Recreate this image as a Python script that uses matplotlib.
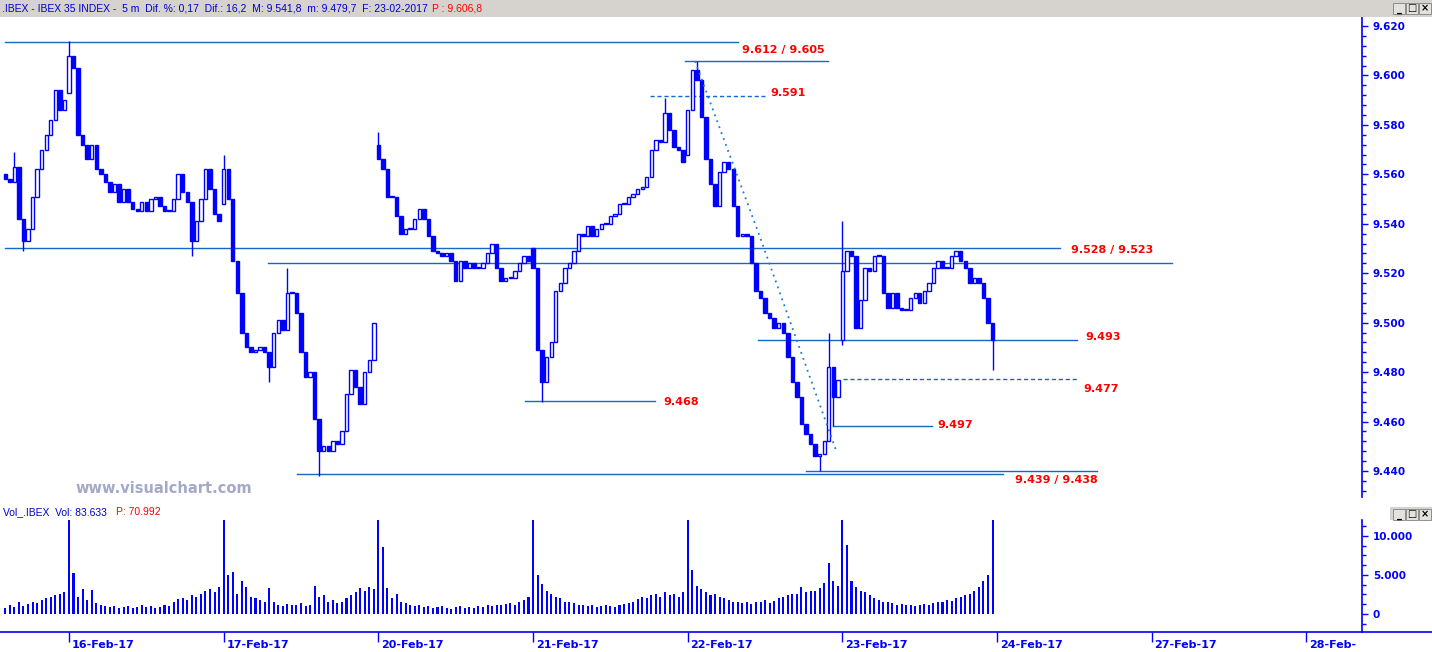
import matplotlib
matplotlib.use('Agg')
import matplotlib.pyplot as plt
import matplotlib.transforms as mtransforms
from matplotlib.patches import Rectangle
from matplotlib.lines import Line2D
from matplotlib.ticker import MultipleLocator, FuncFormatter, FixedLocator

W, H = 1432, 652
BLUE = '#0000ff'
LINE = '#1468c8'
RED = '#ff0000'

# 5 m IBEX 35 closes, sampled per session (points, 9.620 -> 9620)
feb15 = [9558, 9557, 9563, 9542, 9533, 9538, 9551, 9562, 9570, 9576, 9582, 9594, 9586, 9590]
feb16 = [9608, 9603, 9576, 9572, 9566, 9572, 9562, 9560, 9557, 9553,
         9556, 9549, 9554, 9549, 9546, 9545, 9549, 9545, 9550, 9551,
         9547, 9545, 9545, 9550, 9560, 9553, 9549, 9533, 9541, 9550,
         9562, 9554, 9544, 9541]
feb17 = [9562, 9550, 9525, 9512, 9496, 9490, 9488, 9489, 9490, 9488,
         9482, 9496, 9501, 9497, 9512, 9512, 9504, 9488, 9478, 9480,
         9461, 9448, 9450, 9448, 9452, 9451, 9456, 9471, 9481, 9474,
         9467, 9480, 9485, 9500]
feb20 = [9566, 9562, 9551, 9551, 9543, 9536, 9538, 9538, 9542, 9546,
         9542, 9535, 9529, 9528, 9527, 9528, 9525, 9517, 9525, 9522,
         9524, 9522, 9522, 9524, 9528, 9532, 9522, 9517, 9518, 9518,
         9521, 9524, 9527, 9525]
feb21 = [9522, 9489, 9476, 9486, 9492, 9513, 9516, 9522, 9524, 9529,
         9536, 9535, 9539, 9535, 9538, 9540, 9540, 9543, 9544, 9548,
         9548, 9551, 9552, 9554, 9555, 9559, 9570, 9574, 9573, 9585,
         9578, 9571, 9570, 9565]
feb22 = [9586, 9602, 9598, 9583, 9566, 9556, 9547, 9561, 9565, 9562,
         9547, 9535, 9536, 9535, 9524, 9513, 9510, 9504, 9502, 9498,
         9500, 9496, 9486, 9476, 9470, 9459, 9455, 9451, 9446, 9447,
         9452, 9482, 9470, 9477]
feb23 = [9521, 9529, 9527, 9498, 9509, 9522, 9521, 9527, 9527, 9512,
         9506, 9512, 9506, 9505, 9505, 9510, 9512, 9508, 9513, 9516,
         9522, 9525, 9522, 9522, 9527, 9529, 9525, 9522, 9516, 9518,
         9516, 9510, 9500, 9493]
day_open = [9560, 9593, 9548, 9572, 9530, 9568, 9493]

# wick extremes (bar index, low, high)
wick_idx = [2, 4, 14, 41, 48, 58, 62, 69, 82, 118, 145, 152, 179, 181, 182, 184, 217]
wick_lo = [None, 9529, None, 9527, None, 9476, None, 9438, None, 9468, None, None, 9440, None, 9458, 9491, 9481]
wick_hi = [9569, None, 9614, None, 9568, None, 9522, None, 9577, None, 9591, 9606, None, 9496, None, 9541, None]

# volume (thousands)
v15 = [0.8, 1.2, 0.9, 1.5, 1.0, 1.3, 1.6, 1.4, 1.8, 2.0, 2.2, 2.4, 2.6, 2.8]
v16 = [12.5, 5.3, 2.2, 3.2, 1.8, 3.1, 1.4, 1.2, 1.0, 0.9, 1.0, 0.8, 0.9, 1.0, 0.8, 0.9, 1.2,
       0.9, 1.0, 0.8, 0.9, 1.1, 1.0, 1.6, 1.9, 2.0, 1.8, 2.4, 2.2, 2.6, 2.9, 3.2, 2.8, 3.5]
v17 = [12.5, 5.0, 5.4, 2.6, 4.2, 3.5, 2.2, 2.0, 1.8, 1.5, 3.3, 1.6, 1.2, 1.0, 1.3, 1.1, 1.2,
       1.4, 1.0, 1.2, 3.6, 2.2, 2.4, 1.6, 1.8, 1.4, 1.5, 2.0, 2.4, 2.8, 3.3, 3.0, 3.4, 3.2]
v20 = [12.5, 8.6, 3.3, 2.0, 2.5, 1.6, 1.4, 1.2, 1.0, 1.1, 0.9, 1.0, 0.8, 0.9, 1.0, 0.8, 0.7,
       0.9, 1.0, 0.8, 0.9, 0.8, 1.0, 0.9, 1.1, 1.0, 1.2, 1.1, 1.3, 1.4, 1.2, 1.6, 1.8, 2.2]
v21 = [12.5, 5.0, 3.8, 3.0, 2.6, 2.2, 2.0, 1.6, 1.5, 1.4, 1.2, 1.1, 1.0, 1.2, 0.9, 1.0, 1.1,
       1.0, 0.9, 1.2, 1.3, 1.4, 1.6, 1.9, 2.2, 2.0, 2.4, 2.6, 2.2, 2.8, 2.4, 2.6, 2.2, 2.8]
v22 = [12.5, 5.6, 3.6, 3.2, 2.8, 2.4, 2.6, 2.2, 2.0, 1.8, 1.6, 1.5, 1.4, 1.6, 1.3, 1.5, 1.6,
       1.8, 1.4, 1.7, 2.0, 2.2, 2.4, 2.6, 2.5, 3.4, 2.8, 3.0, 2.9, 3.3, 4.0, 6.5, 4.2, 3.6]
v23 = [12.5, 8.8, 4.2, 3.5, 3.0, 2.8, 2.4, 2.0, 1.8, 1.6, 1.5, 1.4, 1.2, 1.3, 1.1, 1.2, 1.0,
       1.1, 1.3, 1.2, 1.4, 1.6, 1.5, 1.8, 1.7, 2.0, 2.2, 2.4, 2.6, 3.0, 3.4, 4.2, 5.0, 12.5]

dates = ['16-Feb-17', '17-Feb-17', '20-Feb-17', '21-Feb-17', '22-Feb-17',
         '23-Feb-17', '24-Feb-17', '27-Feb-17', '28-Feb-']
date_pos = [14, 48, 82, 116, 150, 184, 218, 252, 286]

# support / resistance lines: (start bar, end bar, level, dashed)
lvl_x0 = [-0.1, 149.3, 141.7, -0.1, 57.7, 165.4, 184.1, 114.2, 181.9, 175.9, 64.1]
lvl_x1 = [161.0, 180.8, 166.9, 231.8, 256.4, 235.5, 235.5, 142.8, 203.6, 239.9, 219.2]
lvl_y = [9613.5, 9605.8, 9591.8, 9530.2, 9524.1, 9493.0, 9477.2, 9468.3, 9458.2, 9440.1, 9438.6]
lvl_dash = [False, False, True, False, False, False, True, False, False, False, False]

lab_text = ['9.612 / 9.605', '9.591', '9.528 / 9.523', '9.493', '9.477', '9.468', '9.497', '9.439 / 9.438']
lab_x = [162.0, 168.1, 234.3, 237.4, 237.0, 144.6, 204.8, 222.0]
lab_y = [9610.3, 9592.9, 9529.4, 9494.2, 9473.2, 9467.9, 9458.6, 9436.3]

trend_x = [151.6, 165.8, 182.8]
trend_y = [9605.8, 9535.0, 9447.3]

closes = feb15 + feb16 + feb17 + feb20 + feb21 + feb22 + feb23
volume = [v * 1000 for v in v15 + v16 + v17 + v20 + v21 + v22 + v23]
starts = [0, 14, 48, 82, 116, 150, 184]

opens = []
for i in range(len(closes)):
    if i in starts:
        opens.append(day_open[starts.index(i)])
    else:
        opens.append(closes[i - 1])
highs = [max(o, c) for o, c in zip(opens, closes)]
lows = [min(o, c) for o, c in zip(opens, closes)]
for k, i in enumerate(wick_idx):
    if wick_hi[k] is not None:
        highs[i] = wick_hi[k]
    if wick_lo[k] is not None:
        lows[i] = wick_lo[k]


def fx(x):
    return x / W


def fy(y):
    return 1 - y / H


XLIM = (-0.5, 298.2)

fig = plt.figure(figsize=(W / 100, H / 100), dpi=100)
fig.patch.set_facecolor('white')

# header strips
fig.patches.append(Rectangle((0, fy(17)), 1, 17 / H, transform=fig.transFigure,
                             facecolor='#d6d3ce', edgecolor='none', zorder=0))
fig.patches.append(Rectangle((fx(1390), fy(520)), 42 / W, 13 / H, transform=fig.transFigure,
                             facecolor='#d6d3ce', edgecolor='none', zorder=0))
for yb in (3, 509):
    for k, g in enumerate(['_', '\u25a1', '\u00d7']):
        x0 = 1393 + k * 13
        fig.patches.append(Rectangle((fx(x0), fy(yb + 11)), 12 / W, 11 / H, transform=fig.transFigure,
                                     facecolor='#e4e2de', edgecolor='#808080', lw=0.6, zorder=1))
        fig.text(fx(x0 + 6), fy(yb + 5.5), g, fontsize=7, fontweight='bold', color='black',
                 ha='center', va='center')

fig.text(fx(2), fy(8.5), '.IBEX - IBEX 35 INDEX -  5 m  Dif. %: 0,17  Dif.: 16,2  M: 9.541,8  m: 9.479,7  F: 23-02-2017',
         fontsize=7.5, family='Liberation Sans', color='#0000d0', va='center')
fig.text(fx(432), fy(8.5), 'P : 9.606,8', fontsize=7.5, family='Liberation Sans', color=RED, va='center')
fig.text(fx(3), fy(512), 'Vol_.IBEX  Vol: 83.633', fontsize=7.5, family='Liberation Sans',
         color='#0000d0', va='center')
fig.text(fx(116), fy(512), 'P: 70.992', fontsize=7.5, family='Liberation Sans', color=RED, va='center')

# price panel
ax = fig.add_axes([fx(3), fy(497), fx(1362) - fx(3), (497 - 17) / H])
ax.set_xlim(*XLIM)
ax.set_ylim(9429.47, 9623.64)
ax.set_facecolor('none')

body_w = 0.75
for i, (o, c, h, l) in enumerate(zip(opens, closes, highs, lows)):
    ax.vlines(i, l, h, color=BLUE, lw=1, zorder=3)
    bot = min(o, c)
    ht = max(abs(c - o), 0.4)
    face = BLUE if c < o else 'white'
    ax.add_patch(Rectangle((i - body_w / 2, bot), body_w, ht, facecolor=face,
                           edgecolor=BLUE, lw=1, zorder=4))

for x0, x1, yv, d in zip(lvl_x0, lvl_x1, lvl_y, lvl_dash):
    ax.plot([x0, x1], [yv, yv], color=LINE, lw=1, ls=(0, (3, 2)) if d else '-', zorder=2)

ax.plot(trend_x, trend_y, color='#1a7ad8', lw=1.3, ls=(0, (1, 2.5)), zorder=5)

for t, x, y in zip(lab_text, lab_x, lab_y):
    ax.text(x, y, t, color=RED, fontsize=8, fontweight='bold', ha='left', va='center', zorder=6)

ax.text(15.5, 9433.0, 'www.visualchart.com', color='#a3a9c6', fontsize=10.5, fontweight='bold',
        ha='left', va='center')

for s in ['top', 'left', 'bottom']:
    ax.spines[s].set_visible(False)
ax.spines['right'].set_color(BLUE)
ax.spines['right'].set_linewidth(1.2)
ax.yaxis.tick_right()
ax.yaxis.set_major_locator(MultipleLocator(20))
ax.yaxis.set_minor_locator(MultipleLocator(4))
ax.yaxis.set_major_formatter(FuncFormatter(lambda v, p: f'{v / 1000:.3f}'))
ax.tick_params(axis='y', which='major', length=4.3, width=1, color=BLUE, pad=3.5,
               labelcolor=BLUE, labelsize=7.5)
ax.tick_params(axis='y', which='minor', length=2.9, width=1, color=BLUE)
for lab in ax.get_yticklabels():
    lab.set_fontweight('bold')
ax.set_xticks([])

# volume panel
av = fig.add_axes([fx(3), fy(632), fx(1362) - fx(3), (632 - 520) / H])
av.set_xlim(*XLIM)
av.set_ylim(-2304, 12032)
av.set_facecolor('none')
av.bar(range(len(volume)), volume, width=0.45, color=BLUE, edgecolor='none')
for s in ['top', 'left', 'bottom']:
    av.spines[s].set_visible(False)
av.spines['right'].set_color(BLUE)
av.spines['right'].set_linewidth(1.2)
av.yaxis.tick_right()
av.yaxis.set_major_locator(FixedLocator([0, 5000, 10000]))
av.yaxis.set_minor_locator(MultipleLocator(1250))
av.yaxis.set_major_formatter(FuncFormatter(lambda v, p: f'{int(v):,}'.replace(',', '.')))
av.tick_params(axis='y', which='major', length=4.3, width=1, color=BLUE, pad=3.5,
               labelcolor=BLUE, labelsize=7.5)
av.tick_params(axis='y', which='minor', length=2.9, width=1, color=BLUE)
for lab in av.get_yticklabels():
    lab.set_fontweight('bold')
av.set_xticks(date_pos)
av.set_xticklabels([])
av.tick_params(axis='x', length=7.2, width=1, color=BLUE)
trans = mtransforms.blended_transform_factory(av.transData, av.transAxes)
for d, p in zip(dates, date_pos):
    av.text(p + 0.6, -13 / 112, d, transform=trans, color=BLUE, fontsize=8, fontweight='bold',
            ha='left', va='center', clip_on=False)

fig.lines.append(Line2D([0, 1], [fy(632), fy(632)], transform=fig.transFigure, color=BLUE, lw=1.2))

fig.savefig('out.png', dpi=100)
